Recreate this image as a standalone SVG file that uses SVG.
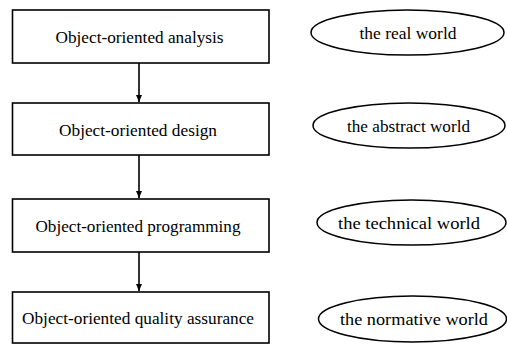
<svg xmlns="http://www.w3.org/2000/svg" width="507" height="346" viewBox="0 0 507 346">
<style>
.box{fill:#fff;stroke:#000;stroke-width:1.6}
.ell{fill:#fff;stroke:#000;stroke-width:1.5}
.t{font-family:"Liberation Serif","Times New Roman",serif;font-size:17px;fill:#000;text-anchor:middle}
.c{stroke:#000;stroke-width:1.6;fill:none}
</style>
<defs>
<marker id="ah" markerWidth="8" markerHeight="8" refX="7" refY="4" orient="auto" markerUnits="userSpaceOnUse">
<path d="M0,1 L7,4 L0,7 Z" fill="#000"/>
</marker>
</defs>
<rect width="507" height="346" fill="#fff"/>
<g id="connectors">
<line class="c" x1="139" y1="63" x2="139" y2="102" marker-end="url(#ah)"/>
<line class="c" x1="139" y1="155" x2="139" y2="198" marker-end="url(#ah)"/>
<line class="c" x1="139" y1="252" x2="139" y2="291" marker-end="url(#ah)"/>
</g>
<g id="n1">
<rect class="box" x="12.5" y="10" width="256.5" height="53"/>
<text class="t" x="139.5" y="43" textLength="168" lengthAdjust="spacingAndGlyphs">Object-oriented analysis</text>
</g>
<g id="n2">
<rect class="box" x="12.5" y="103" width="256.5" height="52"/>
<text class="t" x="138" y="136" textLength="158" lengthAdjust="spacingAndGlyphs">Object-oriented design</text>
</g>
<g id="n3">
<rect class="box" x="12.5" y="199" width="256.5" height="53"/>
<text class="t" x="138" y="232" textLength="205" lengthAdjust="spacingAndGlyphs">Object-oriented programming</text>
</g>
<g id="n4">
<rect class="box" x="12.5" y="292" width="256.5" height="51"/>
<text class="t" x="138" y="324" textLength="232" lengthAdjust="spacingAndGlyphs">Object-oriented quality assurance</text>
</g>
<g id="e1">
<ellipse class="ell" cx="407.5" cy="32.5" rx="96.5" ry="22.5"/>
<text class="t" x="408" y="38.5" textLength="97" lengthAdjust="spacingAndGlyphs">the real world</text>
</g>
<g id="e2">
<ellipse class="ell" cx="409" cy="125.5" rx="96" ry="22.5"/>
<text class="t" x="408.5" y="131.5" textLength="123" lengthAdjust="spacingAndGlyphs">the abstract world</text>
</g>
<g id="e3">
<ellipse class="ell" cx="411.5" cy="222.5" rx="94.5" ry="22.5"/>
<text class="t" x="409" y="228.5" textLength="142" lengthAdjust="spacingAndGlyphs">the technical world</text>
</g>
<g id="e4">
<ellipse class="ell" cx="412.5" cy="319" rx="94" ry="23"/>
<text class="t" x="414" y="325" textLength="148" lengthAdjust="spacingAndGlyphs">the normative world</text>
</g>
</svg>
